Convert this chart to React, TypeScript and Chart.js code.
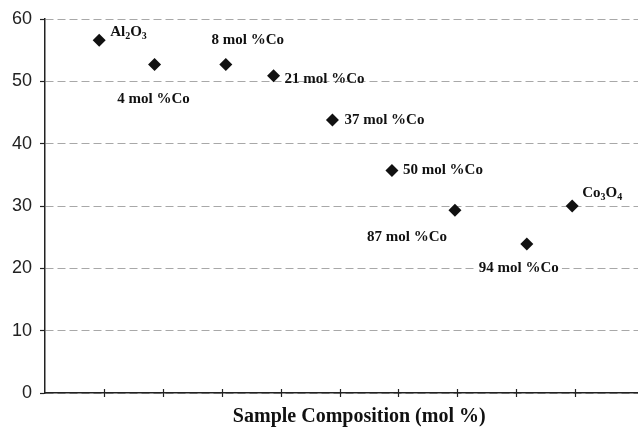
import React, { useEffect, useRef } from 'react';
import { Chart, registerables } from 'chart.js';

Chart.register(...registerables);

// ---- data ----
const sampleLabels = [
  'Al2O3',
  '4 mol %Co',
  '8 mol %Co',
  '21 mol %Co',
  '37 mol %Co',
  '50 mol %Co',
  '87 mol %Co',
  '94 mol %Co',
  'Co3O4',
];
const compositionPositions = [0.92, 1.86, 3.07, 3.88, 4.88, 5.89, 6.96, 8.18, 8.95];
const measuredValues = [56.6, 52.7, 52.7, 50.9, 43.8, 35.7, 29.3, 23.9, 30.0];
const xAxisTitle = 'Sample Composition (mol %)';

// ---- label placement (styling only) ----
const labelPlacement = [
  { dx: 11, dy: -8, align: 'left' },
  { dx: -1, dy: 35, align: 'center' },
  { dx: 22, dy: -24, align: 'center' },
  { dx: 11, dy: 3, align: 'left' },
  { dx: 12, dy: 0, align: 'left' },
  { dx: 11, dy: 0, align: 'left' },
  { dx: -48, dy: 27, align: 'center' },
  { dx: -8, dy: 24, align: 'center', bg: true },
  { dx: 10, dy: -13, align: 'left' },
];

const MAIN_FONT = 'bold 15px "Liberation Serif", "Times New Roman", serif';
const SUB_FONT = 'bold 10px "Liberation Serif", "Times New Roman", serif';

function splitLabel(text: string) {
  if (text.includes(' ')) return [{ t: text, sub: false, w: 0 }];
  const segs: { t: string; sub: boolean; w: number }[] = [];
  for (const ch of text) {
    const sub = /[0-9]/.test(ch);
    const last = segs[segs.length - 1];
    if (last && last.sub === sub) last.t += ch;
    else segs.push({ t: ch, sub, w: 0 });
  }
  return segs;
}

const pointLabelPlugin = {
  id: 'pointLabels',
  afterDatasetsDraw(chart: any) {
    const ctx = chart.ctx;
    const meta = chart.getDatasetMeta(0);
    ctx.save();
    meta.data.forEach((el: any, i: number) => {
      const p = labelPlacement[i];
      const segs = splitLabel(sampleLabels[i]);
      let w = 0;
      segs.forEach((s) => {
        ctx.font = s.sub ? SUB_FONT : MAIN_FONT;
        s.w = ctx.measureText(s.t).width;
        w += s.w;
      });
      let x = el.x + p.dx;
      if (p.align === 'center') x -= w / 2;
      const y = el.y + p.dy;
      if ((p as any).bg) {
        ctx.fillStyle = '#ffffff';
        ctx.fillRect(x - 3, y - 6, w + 6, 12);
      }
      ctx.fillStyle = '#111111';
      ctx.textAlign = 'left';
      ctx.textBaseline = 'middle';
      segs.forEach((s) => {
        ctx.font = s.sub ? SUB_FONT : MAIN_FONT;
        ctx.fillText(s.t, x, s.sub ? y + 4 : y);
        x += s.w;
      });
    });
    ctx.restore();
  },
};

const crossTickPlugin = {
  id: 'crossTicks',
  afterDraw(chart: any) {
    const ctx = chart.ctx;
    const s = chart.scales.x;
    const { left, right, bottom } = chart.chartArea;
    ctx.save();
    ctx.strokeStyle = '#222222';
    ctx.lineWidth = 1.2;
    s.ticks.forEach((t: any) => {
      if (!Number.isInteger(t.value)) return;
      const px = Math.round(s.getPixelForValue(t.value)) + 0.5;
      if (px <= left + 1 || px >= right - 1) return;
      ctx.beginPath();
      ctx.moveTo(px, bottom - 4);
      ctx.lineTo(px, bottom + 4);
      ctx.stroke();
    });
    ctx.restore();
  },
};

export default function App() {
  const canvasRef = useRef<HTMLCanvasElement | null>(null);

  useEffect(() => {
    if (!canvasRef.current) return;
    const chart = new Chart(canvasRef.current, {
      type: 'scatter',
      data: {
        datasets: [
          {
            data: compositionPositions.map((x, i) => ({ x, y: measuredValues[i] })),
            pointStyle: 'rectRot',
            pointRadius: 6.5,
            pointHoverRadius: 6.5,
            backgroundColor: '#111111',
            borderColor: '#111111',
            borderWidth: 0,
            showLine: false,
          },
        ],
      },
      options: {
        animation: false,
        responsive: false,
        events: [],
        layout: { padding: { top: 19, left: 0, right: 0, bottom: 0 } },
        plugins: { legend: { display: false }, tooltip: { enabled: false } },
        scales: {
          x: {
            type: 'linear',
            min: 0,
            max: 10.67,
            afterFit: (s: any) => {
              s.height = 34;
            },
            ticks: { display: false, stepSize: 1 },
            grid: { display: false, drawTicks: false },
            border: { display: true, color: '#222222', width: 1.5 },
            title: {
              display: true,
              text: xAxisTitle,
              color: '#111111',
              font: { family: '"Liberation Serif", "Times New Roman", serif', size: 20, weight: 'bold', lineHeight: 1 },
              padding: { top: 14, bottom: 0 },
            },
          },
          y: {
            min: 0,
            max: 60,
            afterFit: (s: any) => {
              s.width = 45;
            },
            ticks: {
              stepSize: 10,
              color: '#222222',
              padding: 8,
              font: { family: '"Liberation Sans", Arial, sans-serif', size: 18 },
            },
            grid: { color: '#a8a8a8', lineWidth: 1, tickColor: '#222222', tickLength: 5, tickWidth: 1.2, tickBorderDash: [] },
            border: { display: true, color: '#222222', width: 1.5, dash: [8, 4] },
          },
        },
      } as any,
      plugins: [pointLabelPlugin, crossTickPlugin],
    });
    return () => chart.destroy();
  }, []);

  return (
    <div style={{ position: 'absolute', left: 0, top: 0, width: 638, height: 427, overflow: 'hidden', background: '#fff' }}>
      <canvas ref={canvasRef} width={680} height={427} style={{ display: 'block', width: 680, height: 427 }} />
    </div>
  );
}
